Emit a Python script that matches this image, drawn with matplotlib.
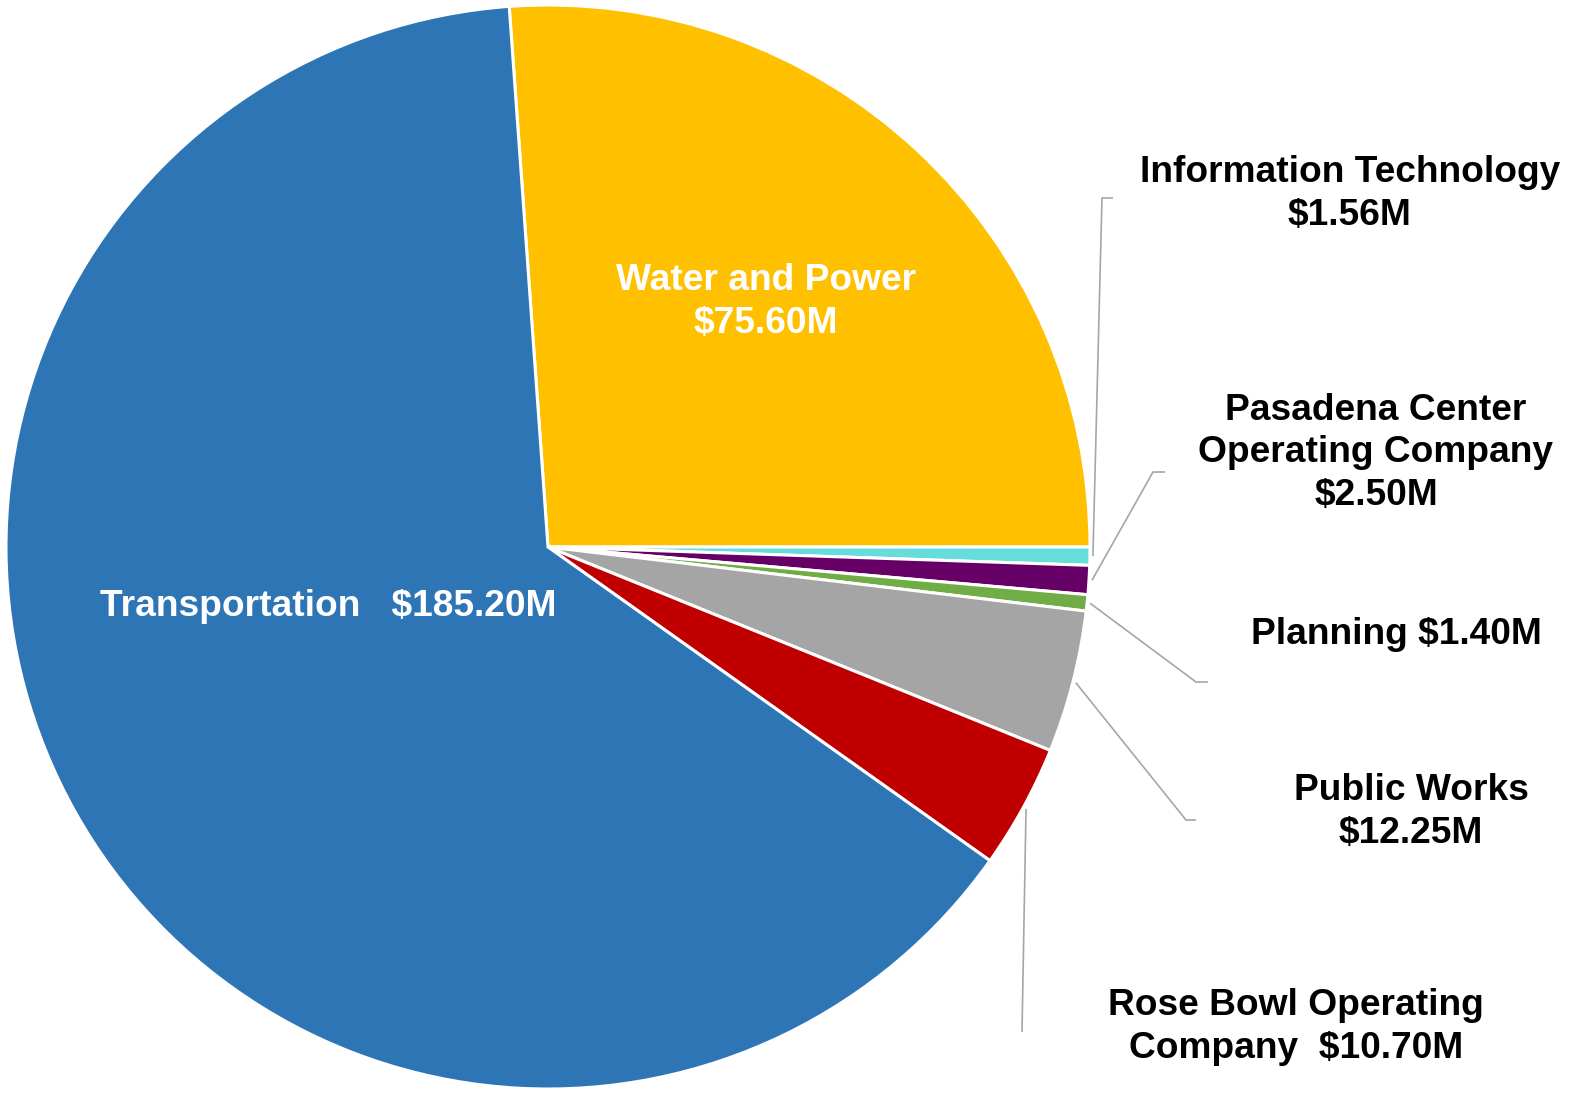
import numpy as np
import matplotlib.pyplot as plt

plt.rcParams['font.family'] = ['Liberation Sans', 'DejaVu Sans']

# budget by department, $M
depts = ['Water and Power', 'Information Technology', 'Pasadena Center Operating Company',
         'Planning', 'Public Works', 'Rose Bowl Operating Company', 'Transportation']
values = [75.60, 1.56, 2.50, 1.40, 12.25, 10.70, 185.20]
colors = ['#FFC000', '#66DCDC', '#660066', '#70AD47', '#A5A5A5', '#C00000', '#2E75B6']
label_txt = ['Water and Power\n$75.60M',
             'Information Technology\n$1.56M',
             'Pasadena Center\nOperating Company\n$2.50M',
             'Planning $1.40M',
             'Public Works\n$12.25M',
             'Rose Bowl Operating\nCompany  $10.70M',
             'Transportation   $185.20M']

W, H = 1578, 1095
fig = plt.figure(figsize=(W/100, H/100), dpi=100)
ax = fig.add_axes([0, 0, 1, 1])
ax.set_xlim(0, W)
ax.set_ylim(0, H)
ax.set_aspect('equal')
ax.axis('off')

cx, cy, R = 548, H - 547, 542
total = sum(values)
start = 360 * values[0] / total   # water/transport boundary just left of top

wedges, _ = ax.pie(values, colors=colors, center=(cx, cy), radius=R,
                   startangle=start, counterclock=False,
                   wedgeprops=dict(edgecolor='white', linewidth=2.2))
ax.set_xlim(0, W)
ax.set_ylim(0, H)

# inside labels (white)
inside = {0: (766, 302), 6: (328, 607)}
# outside labels: text centre, leader elbow (image coords, y from top), elbow length
outside = {1: ((1350, 194), (1102, 198), 11),
           2: ((1376, 453), (1153, 472), 12),
           3: ((1396, 634), (1196, 682), 12),
           4: ((1411, 812), (1186, 820), 10),
           5: ((1296, 1027), (1022, 1032), 0)}

fs = 26.7
ls = 1.27
for i, (x, y) in inside.items():
    ax.text(x, H - y, label_txt[i], color='white', fontsize=fs, fontweight='bold',
            ha='center', va='center', linespacing=ls)

for i, ((tx, ty), (ex, ey), hl) in outside.items():
    w = wedges[i]
    mid = np.deg2rad((w.theta1 + w.theta2) / 2)
    sx, sy = cx + (R + 3) * np.cos(mid), cy + (R + 3) * np.sin(mid)
    ax.plot([sx, ex, ex + hl], [sy, H - ey, H - ey], color='#A6A6A6', lw=1.2,
            solid_capstyle='butt')
    ax.text(tx, H - ty, label_txt[i], color='black', fontsize=fs, fontweight='bold',
            ha='center', va='center', linespacing=ls)

fig.savefig('out.png', dpi=100)
